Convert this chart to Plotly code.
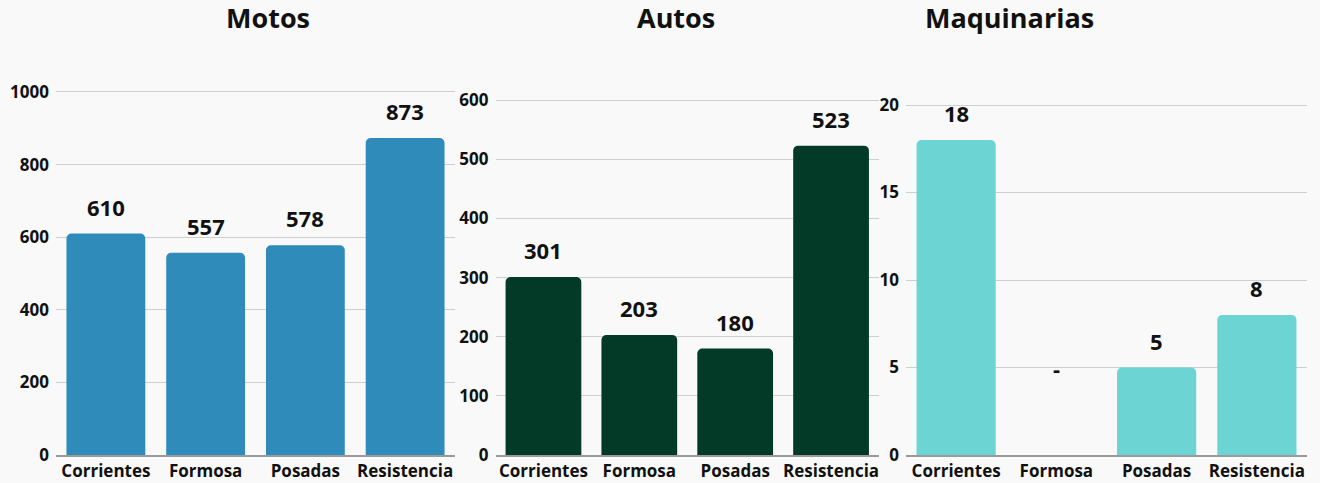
import plotly.graph_objects as go

categories = ["Corrientes", "Formosa", "Posadas", "Resistencia"]
motos = [610, 557, 578, 873]
autos = [301, 203, 180, 523]
maquinarias = [18, 0, 5, 8]
titles = ["Motos", "Autos", "Maquinarias"]
colors = ["#2e8bba", "#023927", "#6dd4d4"]
y_ticks = [[0, 200, 400, 600, 800, 1000], [0, 100, 200, 300, 400, 500, 600], [0, 5, 10, 15, 20]]
y_max = [1033, 634, 21.43]

W, H = 1320, 483
x_doms = [(56, 455), (495.5, 879), (906, 1307)]
title_x = [224, 676, 1096]

FONT = "Open Sans"
fig = go.Figure()
series = [motos, autos, maquinarias]
for i, (vals, col) in enumerate(zip(series, colors)):
    n = "" if i == 0 else str(i + 1)
    fig.add_trace(go.Bar(x=categories, y=vals, marker=dict(color=col, cornerradius=5, line=dict(width=0)),
                         xaxis="x" + n, yaxis="y" + n, showlegend=False, hoverinfo="x+y"))
    fig.update_layout(**{
        "xaxis" + n: dict(domain=[x_doms[i][0] / W, x_doms[i][1] / W], anchor="y" + n,
                          showline=True, linecolor="#9a9a9a", linewidth=1.5, showgrid=False,
                          ticks="", ticklabelstandoff=0,
                          tickfont=dict(family=FONT, size=17, color="#111", weight="bold")),
        "yaxis" + n: dict(domain=[0, 1], anchor="x" + n, range=[0, y_max[i]], tickvals=y_ticks[i],
                          showgrid=True, gridcolor="#cfcfcf", gridwidth=1, zeroline=False,
                          ticks="", ticklabelstandoff=6,
                          tickfont=dict(family=FONT, size=17, color="#111", weight="bold")),
    })
    for c, v in zip(categories, vals):
        txt = str(v) if v != 0 else "-"
        yy = v if v != 0 else y_ticks[i][1]
        fig.add_annotation(x=c, y=yy, xref="x" + n, yref="y" + n, text=txt, showarrow=False,
                           yshift=27 if v != 0 else 0,
                           font=dict(family=FONT, size=22, color="#111", weight="bold"))
    fig.add_annotation(x=title_x[i] / W, y=1, xref="paper", yref="paper", yanchor="bottom",
                       text=titles[i], showarrow=False, yshift=42,
                       font=dict(family=FONT, size=27, color="#111", weight="bold"))

fig.update_layout(width=W, height=H, margin=dict(l=0, r=0, t=80, b=28),
                  paper_bgcolor="#f9f9f9", plot_bgcolor="rgba(0,0,0,0)", bargap=0.21)
fig.write_html("out.html", config={"displayModeBar": False},
               post_script="document.body.style.margin='0';document.body.style.background='#f9f9f9';")
